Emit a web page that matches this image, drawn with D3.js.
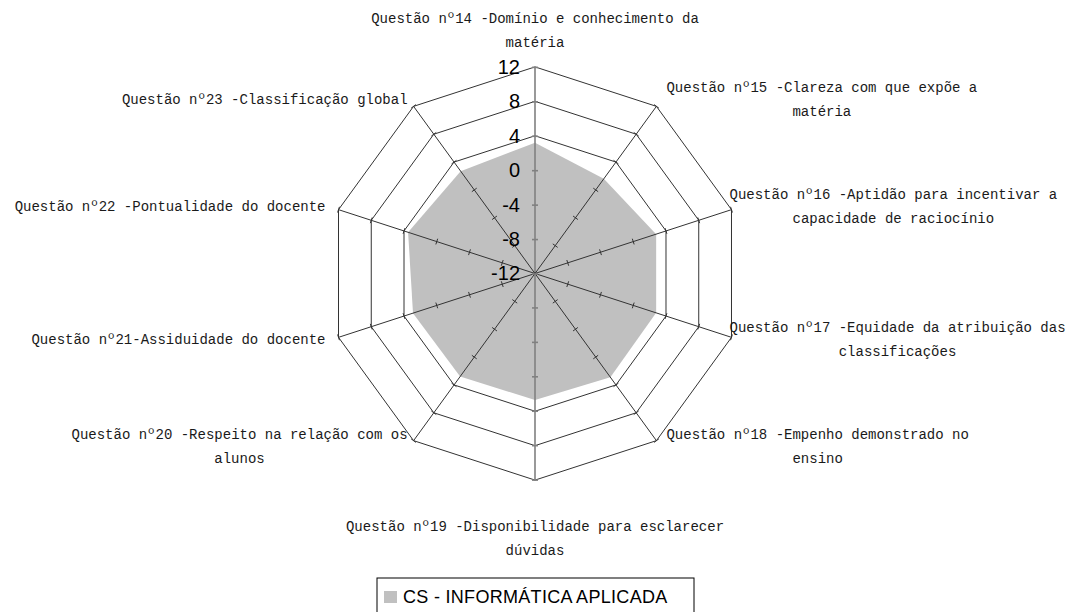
<!DOCTYPE html>
<html lang="pt">
<head>
<meta charset="utf-8">
<title>radar - CS informática aplicada</title>
<script src="https://d3js.org/d3.v7.min.js"></script>
<style>
  body { margin: 0; background: #fff; }
  .qlabel { font-family: "Liberation Mono", monospace; font-size: 14px; fill: #1a1a1a; }
  .ring { fill: none; stroke: #333; stroke-width: 1px; }
  .spoke { stroke: #333; stroke-width: 1px; }
  .spoke.main { stroke: #808080; stroke-width: 1.6px; }
  .area { fill: #c0c0c0; stroke: none; }
</style>
</head>
<body>
<script>
// data
var questions = [
  ["Questão nº14 -Domínio e conhecimento da", "matéria"],
  ["Questão nº15 -Clareza com que expõe a", "matéria"],
  ["Questão nº16 -Aptidão para incentivar a", "capacidade de raciocínio"],
  ["Questão nº17 -Equidade da atribuição das", "classificações"],
  ["Questão nº18 -Empenho demonstrado no", "ensino"],
  ["Questão nº19 -Disponibilidade para esclarecer", "dúvidas"],
  ["Questão nº20 -Respeito na relação com os", "alunos"],
  ["Questão nº21-Assiduidade do docente"],
  ["Questão nº22 -Pontualidade do docente"],
  ["Questão nº23 -Classificação global"]
];
var values = [3.2, 1.6, 2.8, 2.8, 2.9, 2.7, 2.8, 2.9, 3.5, 2.7];
var tickValues = [-12, -8, -4, 0, 4, 8, 12];
var seriesName = "CS - INFORMÁTICA APLICADA";

var w = 1074, h = 612;
var cx = 535, cy = 273.5, R = 206.6;
var n = questions.length;
var step = 2 * Math.PI / n;

var svg = d3.select("body").append("svg")
  .attr("width", w).attr("height", h);

var rScale = d3.scaleLinear().domain([-12, 12]).range([0, R]);

var g = svg.append("g").attr("transform", `translate(${cx},${cy})`);

var radial = d3.lineRadial()
  .angle((d, i) => i * step)
  .radius(d => rScale(d))
  .curve(d3.curveLinearClosed);

// rings (gridlines)
g.selectAll("path.ring")
  .data(tickValues.filter(t => t > -12))
  .enter().append("path")
  .attr("class", "ring")
  .attr("d", t => radial(d3.range(n).map(() => t)));

// series area
g.append("path")
  .datum(values)
  .attr("class", "area")
  .attr("d", radial);

// spokes + small ticks
function pt(i, v) {
  var a = i * step, r = rScale(v);
  return [r * Math.sin(a), -r * Math.cos(a)];
}

d3.range(n).forEach(function(i) {
  var a = i * step;
  var end = pt(i, 12);
  var main = (i === 0 || i === n / 2);
  g.append("line")
    .attr("class", main ? "spoke main" : "spoke")
    .attr("x1", 0).attr("y1", 0)
    .attr("x2", end[0]).attr("y2", end[1]);
  if (main) return;
  var px = Math.cos(a) * 3, py = Math.sin(a) * 3;
  tickValues.filter(t => t > -12).forEach(function(t) {
    var p = pt(i, t);
    g.append("line")
      .attr("class", "spoke")
      .attr("x1", p[0] - px).attr("y1", p[1] - py)
      .attr("x2", p[0] + px).attr("y2", p[1] + py);
  });
});

// ticks on the bottom vertical spoke
g.selectAll("line.btick")
  .data(tickValues.filter(t => t > -12))
  .enter().append("line")
  .attr("class", "spoke main btick")
  .attr("x1", -3).attr("x2", 3)
  .attr("y1", t => rScale(t)).attr("y2", t => rScale(t));

// value axis on the top spoke
var yScale = d3.scaleLinear().domain([-12, 12]).range([0, -R]);
var yAxis = d3.axisLeft(yScale)
  .tickValues(tickValues)
  .tickFormat(d => String(d))
  .tickSize(3).tickPadding(12);
var ax = g.append("g").call(yAxis);
ax.select(".domain").remove();
ax.selectAll(".tick line").attr("x1", 3).attr("x2", -3)
  .attr("stroke", "#808080").attr("stroke-width", 1.6);
ax.selectAll(".tick text")
  .attr("font-family", "Liberation Sans, Arial, sans-serif")
  .attr("font-size", 20)
  .attr("fill", "#000");

// category labels
var lineH = 24;
d3.range(n).forEach(function(i) {
  var a = i * step;
  var s = Math.sin(a), c = Math.cos(a);
  var v = pt(i, 12);
  var lines = questions[i];
  var lg = svg.append("g");
  var texts = lines.map(function(l) {
    return lg.append("text").attr("class", "qlabel")
      .attr("dominant-baseline", "middle")
      .attr("text-anchor", "middle")
      .text(l);
  });
  var bw = d3.max(texts, t => t.node().getComputedTextLength());
  var bh = lines.length * lineH;
  var steep = Math.abs(c) > 0.5;
  var bx, by;
  if (Math.abs(s) < 0.01) {
    bx = cx + v[0];
    by = c > 0 ? cy + v[1] - 12 - bh / 2 : cy + v[1] + 35 + bh / 2;
  } else if (s > 0) {
    bx = cx + v[0] + (steep ? 10 : -2) + bw / 2;
    by = cy + v[1] - c * 8;
  } else {
    bx = cx + v[0] - (steep ? 6 : 13) - bw / 2;
    by = cy + v[1] - c * 8;
  }
  texts.forEach(function(t, k) {
    t.attr("x", bx).attr("y", by - bh / 2 + lineH / 2 + k * lineH);
  });
});

// legend
var leg = svg.append("g").attr("transform", "translate(377,578)");
leg.append("rect")
  .attr("width", 317).attr("height", 50)
  .attr("fill", "#fff").attr("stroke", "#000").attr("stroke-width", 1);
leg.append("rect")
  .attr("x", 7).attr("y", 13).attr("width", 13).attr("height", 12)
  .attr("fill", "#c0c0c0");
leg.append("text")
  .attr("x", 26).attr("y", 25)
  .attr("font-family", "Liberation Sans, Arial, sans-serif")
  .attr("font-size", 18)
  .attr("letter-spacing", 0.3)
  .attr("fill", "#000")
  .text(seriesName);
</script>
</body>
</html>
